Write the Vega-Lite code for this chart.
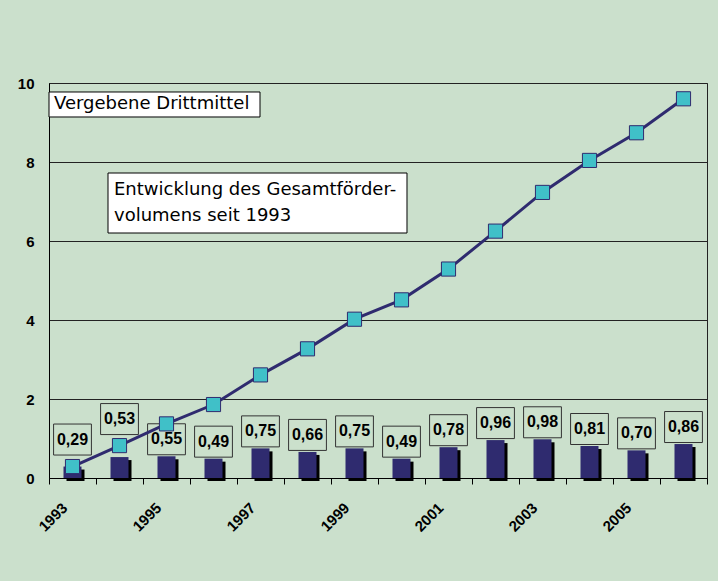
{
  "$schema": "https://vega.github.io/schema/vega-lite/v6.json",
  "width": 658,
  "height": 395,
  "autosize": {"type": "none"},
  "padding": {"left": 49, "top": 83, "right": 11, "bottom": 103},
  "background": "#cbe0cc",
  "config": {
    "view": {"stroke": "#222222", "strokeWidth": 1, "fill": "#cbe0cc"},
    "font": "Liberation Sans",
    "locale": {"number": {"decimal": ",", "thousands": ".", "grouping": [3], "currency": ["", " €"]}}
  },
  "data": {
    "values": [
      {"year": "1993", "v": 0.29, "cum": 0.29},
      {"year": "1994", "v": 0.53, "cum": 0.82},
      {"year": "1995", "v": 0.55, "cum": 1.37},
      {"year": "1996", "v": 0.49, "cum": 1.86},
      {"year": "1997", "v": 0.75, "cum": 2.61},
      {"year": "1998", "v": 0.66, "cum": 3.27},
      {"year": "1999", "v": 0.75, "cum": 4.02},
      {"year": "2000", "v": 0.49, "cum": 4.51},
      {"year": "2001", "v": 0.78, "cum": 5.29},
      {"year": "2002", "v": 0.96, "cum": 6.25},
      {"year": "2003", "v": 0.98, "cum": 7.23},
      {"year": "2004", "v": 0.81, "cum": 8.04},
      {"year": "2005", "v": 0.70, "cum": 8.74},
      {"year": "2006", "v": 0.86, "cum": 9.60}
    ]
  },
  "encoding": {
    "x": {
      "field": "year",
      "type": "ordinal",
      "scale": {"paddingInner": 0, "paddingOuter": 0},
      "axis": {
        "title": null,
        "labelAngle": -45,
        "labelExpr": "toNumber(datum.value) % 2 == 1 ? datum.label : ''",
        "labelFont": "Liberation Sans",
        "labelFontWeight": "bold",
        "labelFontSize": 15,
        "labelColor": "#000000",
        "labelOverlap": false,
        "labelPadding": 16,
        "labelOffset": -13,
        "tickBand": "extent",
        "tickColor": "#000000",
        "tickSize": 6,
        "domainColor": "#000000",
        "grid": false,
        "zindex": 1
      }
    }
  },
  "layer": [
    {
      "mark": {"type": "bar", "width": 18, "color": "#000000", "xOffset": 3, "yOffset": 3},
      "encoding": {
        "y": {
          "field": "v",
          "type": "quantitative",
          "scale": {"domain": [0, 10], "nice": false},
          "axis": {
            "title": null,
            "values": [0, 2, 4, 6, 8, 10],
            "format": "d",
            "grid": true,
            "gridColor": "#222222",
            "gridOpacity": 1,
            "tickSize": 0,
            "labelPadding": 15,
            "labelFont": "Liberation Sans",
            "labelFontSize": 15,
            "labelFontWeight": "bold",
            "labelColor": "#000000",
            "domainColor": "#000000"
          }
        }
      }
    },
    {
      "mark": {"type": "bar", "width": 18, "color": "#2f2b6f"},
      "encoding": {"y": {"field": "v", "type": "quantitative"}}
    },
    {
      "transform": [{"filter": "datum.year != '1993' && datum.year != '1994'"}],
      "mark": {"type": "point", "shape": "M-1.22,-1H1.22V1H-1.22Z", "size": 961, "filled": false, "stroke": "#333333", "strokeWidth": 1, "opacity": 1, "yOffset": -17},
      "encoding": {"y": {"field": "v", "type": "quantitative"}}
    },
    {
      "transform": [{"filter": "datum.year != '1993' && datum.year != '1994'"}],
      "mark": {"type": "text", "font": "Liberation Sans", "fontWeight": "bold", "fontSize": 16, "baseline": "middle", "color": "#000000", "yOffset": -17},
      "encoding": {"y": {"field": "v", "type": "quantitative"}, "text": {"field": "v", "type": "quantitative", "format": ".2f"}}
    },
    {
      "transform": [{"filter": "datum.year == '1993'"}],
      "mark": {"type": "point", "shape": "M-1.22,-1H1.22V1H-1.22Z", "size": 961, "filled": false, "stroke": "#333333", "strokeWidth": 1, "opacity": 1, "yOffset": -27},
      "encoding": {"y": {"field": "v", "type": "quantitative"}}
    },
    {
      "transform": [{"filter": "datum.year == '1993'"}],
      "mark": {"type": "text", "font": "Liberation Sans", "fontWeight": "bold", "fontSize": 16, "baseline": "middle", "color": "#000000", "yOffset": -27},
      "encoding": {"y": {"field": "v", "type": "quantitative"}, "text": {"field": "v", "type": "quantitative", "format": ".2f"}}
    },
    {
      "transform": [{"filter": "datum.year == '1994'"}],
      "mark": {"type": "point", "shape": "M-1.22,-1H1.22V1H-1.22Z", "size": 961, "filled": false, "stroke": "#333333", "strokeWidth": 1, "opacity": 1, "yOffset": -38},
      "encoding": {"y": {"field": "v", "type": "quantitative"}}
    },
    {
      "transform": [{"filter": "datum.year == '1994'"}],
      "mark": {"type": "text", "font": "Liberation Sans", "fontWeight": "bold", "fontSize": 16, "baseline": "middle", "color": "#000000", "yOffset": -38},
      "encoding": {"y": {"field": "v", "type": "quantitative"}, "text": {"field": "v", "type": "quantitative", "format": ".2f"}}
    },
    {
      "mark": {"type": "line", "color": "#2f2b6f", "strokeWidth": 3},
      "encoding": {"y": {"field": "cum", "type": "quantitative"}}
    },
    {
      "mark": {"type": "point", "shape": "square", "filled": true, "fill": "#40c0c8", "stroke": "#2f2b6f", "strokeWidth": 1, "size": 200, "opacity": 1},
      "encoding": {"y": {"field": "cum", "type": "quantitative"}}
    },
    {
      "data": {"values": [{"t": "Vergebene Drittmittel"}]},
      "mark": {"type": "point", "shape": "M-8.44,-1H8.44V1H-8.44Z", "size": 625, "filled": true, "fill": "#ffffff", "stroke": "#000000", "strokeWidth": 1, "opacity": 1, "xOffset": 105.5},
      "encoding": {
        "x": {"datum": "1993", "type": "ordinal", "bandPosition": 0},
        "y": {"datum": 9.456, "type": "quantitative"}
      }
    },
    {
      "data": {"values": [{"t": "Vergebene Drittmittel"}]},
      "mark": {"type": "text", "font": "DejaVu Sans", "fontSize": 18, "align": "left", "baseline": "middle", "color": "#000000", "xOffset": 5},
      "encoding": {
        "x": {"datum": "1993", "type": "ordinal", "bandPosition": 0},
        "y": {"datum": 9.456, "type": "quantitative"},
        "text": {"field": "t"}
      }
    },
    {
      "data": {"values": [{"t": "Entwicklung"}]},
      "mark": {"type": "point", "shape": "M-4.983,-1H4.983V1H-4.983Z", "size": 3600, "filled": true, "fill": "#ffffff", "stroke": "#000000", "strokeWidth": 1, "opacity": 1, "xOffset": 208.5},
      "encoding": {
        "x": {"datum": "1993", "type": "ordinal", "bandPosition": 0},
        "y": {"datum": 6.962, "type": "quantitative"}
      }
    },
    {
      "data": {"values": [{"t": "Entwicklung"}]},
      "mark": {"type": "text", "font": "DejaVu Sans", "fontSize": 18, "align": "left", "baseline": "middle", "lineHeight": 26, "color": "#000000", "xOffset": 65, "yOffset": -13},
      "encoding": {
        "x": {"datum": "1993", "type": "ordinal", "bandPosition": 0},
        "y": {"datum": 6.962, "type": "quantitative"},
        "text": {"value": ["Entwicklung des Gesamtförder-", "volumens seit 1993"]}
      }
    }
  ]
}
